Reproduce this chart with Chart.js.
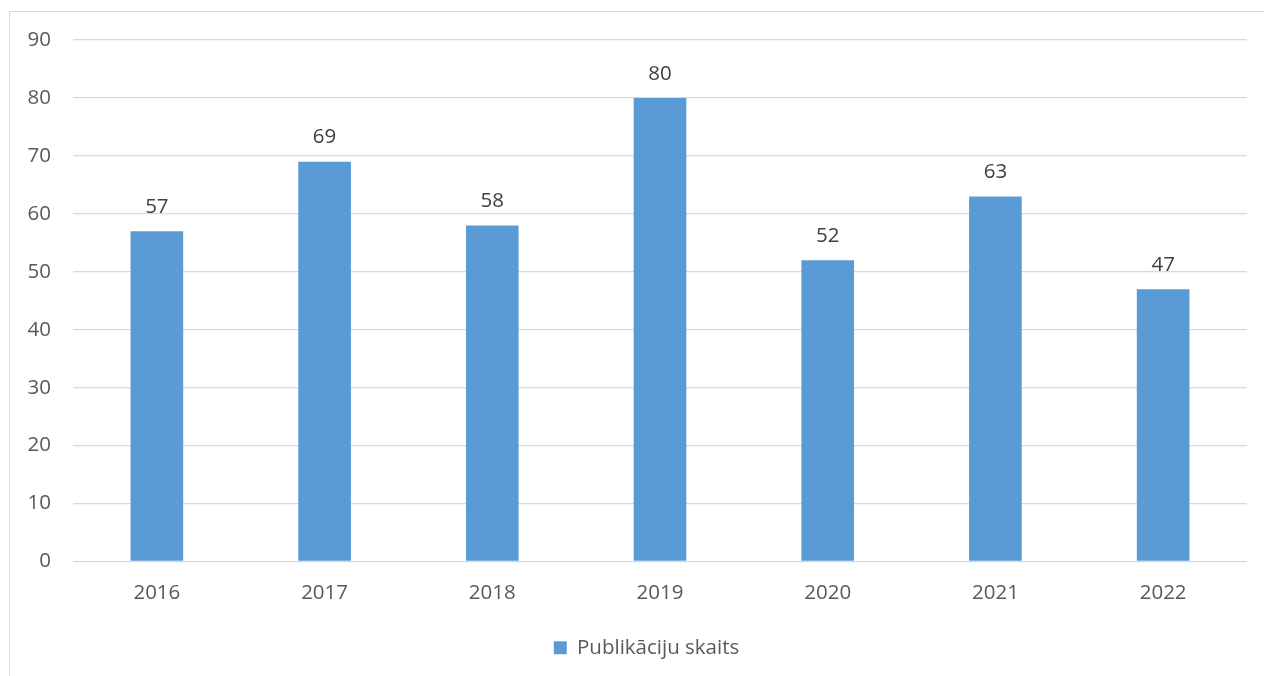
<!DOCTYPE html>
<html><head><meta charset="utf-8">
<script src="https://cdn.jsdelivr.net/npm/chart.js@4"></script>
<style>html,body{margin:0;padding:0;background:#fff}#wrap{width:1264px;height:676px;position:relative}</style>
</head><body><div id="wrap"><canvas id="c" width="1264" height="676"></canvas></div>
<script>
const categories = ["2016","2017","2018","2019","2020","2021","2022"];
const publications = [57,69,58,80,52,63,47];
const seriesName = "Publikāciju skaits";
const yMin = 0, yMax = 90, yStep = 10;

const FONT = "'Open Sans', sans-serif";
const FS = 20.5;

const framePlugin = {
  id: 'frame',
  beforeDraw(chart) {
    const ctx = chart.ctx;
    ctx.save();
    ctx.strokeStyle = '#d9d9d9';
    ctx.lineWidth = 1;
    ctx.strokeRect(9.5, 11.5, 1300, 700);
    ctx.restore();
  },
  afterLayout(chart) {
    if (chart.legend) { chart.legend.left += 46; }
  }
};
const labelPlugin = {
  id: 'valLabels',
  afterDatasetsDraw(chart) {
    const ctx = chart.ctx;
    const meta = chart.getDatasetMeta(0);
    ctx.save();
    ctx.font = FS + "px " + FONT;
    ctx.fillStyle = '#404040';
    ctx.textAlign = 'center';
    ctx.textBaseline = 'bottom';
    meta.data.forEach((bar, i) => {
      ctx.fillText(String(chart.data.datasets[0].data[i]), bar.x, bar.y - 14);
    });
    ctx.restore();
  }
};

new Chart(document.getElementById('c'), {
  type: 'bar',
  data: {
    labels: categories,
    datasets: [{
      label: seriesName,
      data: publications,
      backgroundColor: '#5B9BD5',
      borderWidth: 0,
      categoryPercentage: 1,
      barPercentage: 0.314
    }]
  },
  options: {
    responsive: false,
    animation: false,
    devicePixelRatio: 1,
    layout: { padding: { left: 0, right: 17, top: 40, bottom: 8 } },
    plugins: {
      tooltip: { enabled: false },
      legend: {
        position: 'bottom',
        labels: {
          boxWidth: 13, boxHeight: 13,
          color: '#595959',
          font: { family: FONT, size: FS },
          padding: 10
        }
      }
    },
    scales: {
      x: {
        grid: { display: false },
        border: { display: false },
        ticks: { color: '#595959', font: { family: FONT, size: FS }, padding: 11 },
        afterFit(s) { s.height = 66; }
      },
      y: {
        min: yMin, max: yMax,
        ticks: { stepSize: yStep, color: '#595959', font: { family: FONT, size: FS }, padding: 22 },
        grid: { color: '#d9d9d9', lineWidth: 1.3, drawTicks: false },
        border: { display: false },
        afterFit(s) { s.width = 73; }
      }
    }
  },
  plugins: [framePlugin, labelPlugin]
});
</script></body></html>
